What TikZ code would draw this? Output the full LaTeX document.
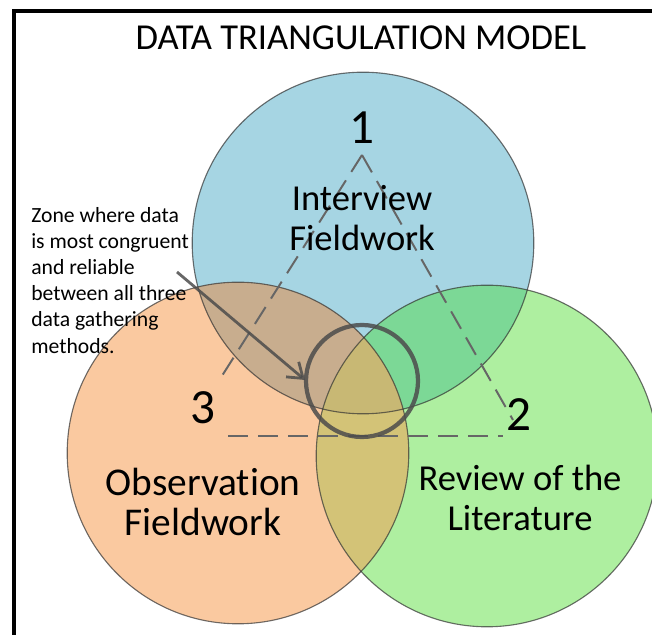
\documentclass[tikz,border=0pt]{standalone}
\usepackage{fontspec}
\setmainfont{Carlito}[Ligatures=NoCommon]
\usepackage{xcolor}
\usepackage{tikz}
\usetikzlibrary{arrows.meta}
\tikzset{>=latex}

\definecolor{interviewblue}{RGB}{166,213,227}
\definecolor{observeorange}{RGB}{250,201,160}
\definecolor{reviewgreen}{RGB}{174,239,160}
\definecolor{blueorange}{RGB}{200,173,142}
\definecolor{bluegreen}{RGB}{124,216,150}
\definecolor{orangegreen}{RGB}{211,195,119}
\definecolor{allthree}{RGB}{200,184,116}

\begin{document}
\begin{tikzpicture}[>=latex,
    side/.style={dash pattern=on 0.5cm off 0.25cm, line width=1.4pt, draw=black!60},
    rim/.style={draw=black!80, draw opacity=0.7, line width=0.8pt},
    label/.style={font=\fontsize{26}{28.5}\selectfont, align=center}]
    \useasboundingbox (0,0) rectangle (16.3,15.875);
    \clip (0,0) rectangle (16.3,15.875);

    % Coordinates
    \coordinate (blue) at (9.075,9.8);
    \coordinate (orange) at (5.95,4.55);
    \coordinate (green) at (12.175,4.475);
    \coordinate (ring) at (9.05,6.35);
    \coordinate (apex) at (9.05,12.0);
    \coordinate (left end) at (5.5,6.4);
    \coordinate (right end) at (12.825,5.375);
    \coordinate (base left) at (5.7,4.975);
    \coordinate (base right) at (12.575,4.975);
    \coordinate (arrow start) at (4.425,9.075);
    \coordinate (arrow tip) at (7.625,6.375);

    % Circles
    \fill[interviewblue] (blue) circle (4.27);
    \fill[observeorange] (orange) circle (4.27);
    \fill[reviewgreen] (green) circle (4.27);
    % Overlaps
    \begin{scope}
        \clip (blue) circle (4.27);
        \fill[blueorange] (orange) circle (4.27);
        \fill[bluegreen] (green) circle (4.27);
    \end{scope}
    \begin{scope}
        \clip (orange) circle (4.27);
        \fill[orangegreen] (green) circle (4.27);
        \clip (blue) circle (4.27);
        \fill[allthree] (green) circle (4.27);
    \end{scope}
    \draw[rim] (blue) circle (4.27);
    \draw[rim] (orange) circle (4.27);
    \draw[rim] (green) circle (4.27);

    % Frame
    \draw[line width=2.2pt] (0.35,0) -- (0.35,15.6) -- (16.3,15.6);

    % Title
    \node (title) at (9.025,14.925) {\fontsize{26}{30}\selectfont DATA TRIANGULATION MODEL};

    % Triangle
    \draw[side] (apex) -- (left end);
    \draw[side] (apex) -- (right end);
    \draw[side] (base left) -- (base right);

    % Numbers
    \node (one) at (9.05,12.675) {\fontsize{35}{40}\selectfont 1};
    \node (three) at (5.075,5.675) {\fontsize{35}{40}\selectfont 3};
    \node (two) at (12.975,5.5) {\fontsize{35}{40}\selectfont 2};

    % Text
    \node[label] (interview) at (9.05,10.425) {Interview\\Fieldwork};
    \node[label, font=\fontsize{28}{28.5}\selectfont] (observation) at (5.075,3.325) {Observation\\Fieldwork};
    \node[label] (review) at (13.0,3.425) {Review of the\\Literature};

    % Zone
    \node[anchor=north west, inner sep=0pt, align=left,
          font=\fontsize{15.4}{18.6}\selectfont] (zone) at (0.775,10.7)
        {Zone where data\\is most congruent\\and reliable\\between all three\\data gathering\\methods.};
    \draw[draw=black!70, draw opacity=0.85, line width=3pt] (ring) circle (1.4);
    \draw[-{Straight Barb[length=10pt, width=14pt]}, draw=black!70, draw opacity=0.85, line width=2pt] (arrow start) -- (arrow tip);
\end{tikzpicture}
\end{document}
